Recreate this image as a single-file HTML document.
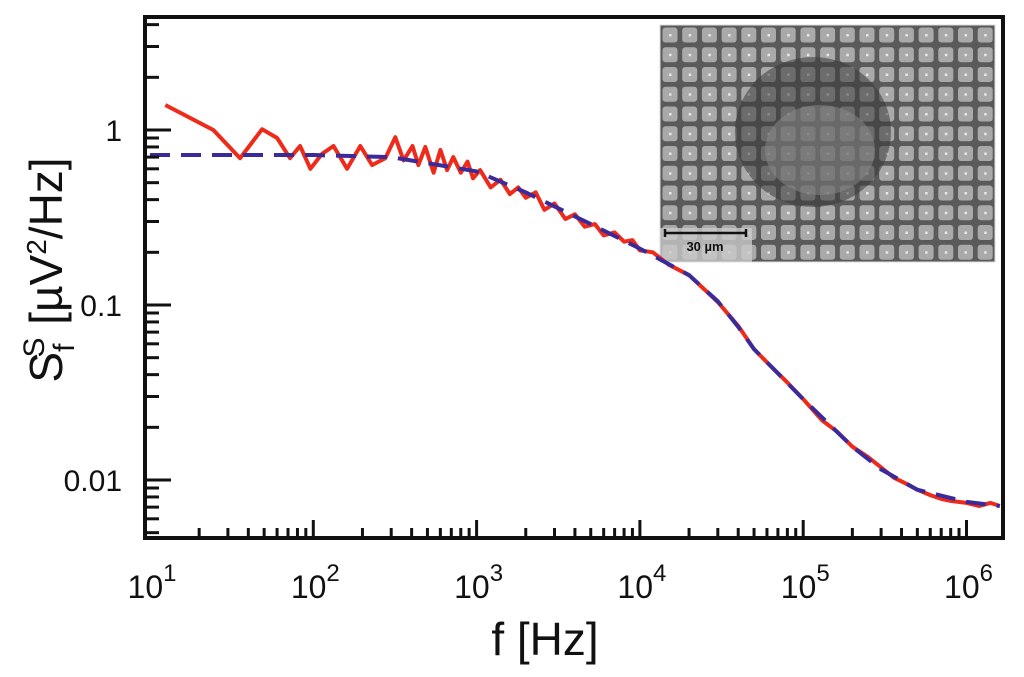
<!DOCTYPE html>
<html><head><meta charset="utf-8"><style>
html,body{margin:0;padding:0;background:#fff;}
svg{display:block;font-family:"Liberation Sans",Arial,sans-serif;}
</style></head><body>
<svg id="chart" width="1024" height="677" viewBox="0 0 1024 677" xmlns="http://www.w3.org/2000/svg">
<g id="inset"></g>
<g id="curves"></g>
<g id="axes"></g>
<text x="545" y="655" font-size="46" text-anchor="middle" fill="#111">f [Hz]</text>
<text transform="translate(62,270) rotate(-90)" font-size="46" text-anchor="middle" fill="#111">S<tspan font-size="30" dy="12">f</tspan><tspan font-size="30" dx="-14" dy="-30">S</tspan><tspan dy="18"> [µV</tspan><tspan font-size="28" dy="-16">2</tspan><tspan dy="16">/Hz]</tspan></text>
</svg>
<script>
const fitFreq = [10,30,100,300,1000,2000,5000,1e4,2e4,3e4,4e4,5e4,1e5,2e5,3e5,5e5,1e6,1.6e6];
const fitVals = [0.72,0.72,0.72,0.70,0.58,0.44,0.29,0.21,0.148,0.105,0.075,0.056,0.029,0.0155,0.0115,0.0088,0.0075,0.0071];
const dataFreq = [12.4,24.4,35.6,48.6,60,72,83,96,113,133,161,194,229,276,318,357,405,440,485,545,600,660,720,800,880,950,1050,1220,1400,1600,1800,2000,2300,2600,3000,3500,4000,4600,5300,6000,7000,8000,9000,1e4,1.2e4,1.5e4,2e4,2.5e4,3e4,4e4,5e4,6e4,8e4,1e5,1.3e5,1.6e5,2e5,2.5e5,3e5,3.6e5,4.2e5,5e5,6e5,7e5,8e5,1e6,1.2e6,1.4e6,1.6e6];
const dataVals = [1.39,1.0,0.69,1.01,0.9,0.69,0.81,0.6,0.73,0.81,0.6,0.81,0.63,0.69,0.91,0.67,0.81,0.63,0.8,0.57,0.77,0.59,0.7,0.57,0.66,0.53,0.59,0.47,0.52,0.43,0.47,0.41,0.44,0.35,0.38,0.31,0.33,0.28,0.29,0.25,0.26,0.23,0.235,0.205,0.2,0.17,0.148,0.122,0.104,0.076,0.056,0.047,0.036,0.029,0.022,0.019,0.0155,0.0135,0.0118,0.0103,0.0096,0.0088,0.0082,0.0078,0.0076,0.0074,0.0071,0.0074,0.0071];
const xTicks = [1,2,3,4,5,6];
const yTickVals = [0.01,0.1,1];
const yTickLabels = ["0.01","0.1","1"];

const NS="http://www.w3.org/2000/svg";
const X0=145,X1=1003,Y0=17,Y1=538;
function xs(f){return 150+(Math.log10(f)-1)*163.3;}
function ys(v){return 130-Math.log10(v)*175;}
function mk(tag,attrs,parent){const e=document.createElementNS(NS,tag);for(const k in attrs)e.setAttribute(k,attrs[k]);parent.appendChild(e);return e;}
const axes=document.getElementById('axes'),curves=document.getElementById('curves'),inset=document.getElementById('inset');

const ir=mk('rect',{x:660,y:25,width:335,height:237,fill:'#5a5a5a'},inset);


for(let r=0;r<12;r++)for(let c=0;c<17;c++){
  const cx=660+c*19.7,cy=25+r*19.75;
  const cell=mk('rect',{x:cx+2.5,y:cy+2.5,width:15,height:15,rx:3,fill:'#a9a9a9'},inset);
  
  
  mk('rect',{x:cx+9,y:cy+9,width:2.5,height:2.5,fill:'#e8e8e8'},inset);
}
const blob=mk('ellipse',{cx:813,cy:132,rx:78,ry:75,fill:'#3a3a3a',opacity:0.55},inset);


mk('ellipse',{cx:820,cy:150,rx:55,ry:45,fill:'#8a8a8a',opacity:0.5},inset);
mk('rect',{x:660,y:228,width:92,height:34,fill:'#c9c9c9',opacity:0.8},inset);
const sb=mk('path',{d:'M665 233 H746 M665 229 V237 M746 229 V237',stroke:'#111','stroke-width':2.5,fill:'none'},inset);


const sbt=mk('text',{x:705,y:251,'font-size':13,'font-weight':'bold','text-anchor':'middle',fill:'#111'},inset);
sbt.textContent='30 µm';


mk('rect',{x:660,y:25,width:335,height:237,fill:'none',stroke:'#ddd','stroke-width':1},inset);

const rp=mk('polyline',{points:dataFreq.map((f,i)=>xs(f).toFixed(1)+','+ys(dataVals[i]).toFixed(1)).join(' '),fill:'none',stroke:'#ee2a1a','stroke-width':4,'stroke-linejoin':'round'},curves);


const bp=mk('polyline',{points:fitFreq.map((f,i)=>xs(f).toFixed(1)+','+ys(fitVals[i]).toFixed(1)).join(' '),fill:'none',stroke:'#3a2a9a','stroke-width':4,'stroke-dasharray':'20 11'},curves);



const fr=mk('path',{d:`M${X0} ${Y0} V${Y1} H${X1} V${Y0} Z`,fill:'none',stroke:'#111','stroke-width':4},axes);



for(let d=1;d<=6;d++){for(let m=1;m<10;m++){const x=xs(m*Math.pow(10,d));if(x>X1-2)continue;if(m===1&&d===1)continue;
  const t=mk('line',{x1:x,y1:Y1,x2:x,y2:Y1-(m===1?18:10),stroke:'#111','stroke-width':3},axes);
  
  }}
xTicks.forEach(p=>{const x=xs(Math.pow(10,p));
  const t=mk('text',{x:x+2,y:598,'font-size':32,'text-anchor':'middle',fill:'#111'},axes);
  t.innerHTML='10<tspan font-size="24" dy="-17">'+p+'</tspan>';
  
  });

for(let d=-3;d<=0;d++){for(let m=1;m<10;m++){const v=m*Math.pow(10,d);const y=ys(v);if(y<Y0+3||y>Y1-3)continue;
  const t=mk('line',{x1:X0,y1:y,x2:X0+(m===1?26:14),y2:y,stroke:'#111','stroke-width':3},axes);
  
  }}
yTickVals.forEach((v,i)=>{const t=mk('text',{x:122,y:ys(v)+11,'font-size':30,'text-anchor':'end',fill:'#111'},axes);
  t.textContent=yTickLabels[i];
  
  });
</script>
</body></html>
